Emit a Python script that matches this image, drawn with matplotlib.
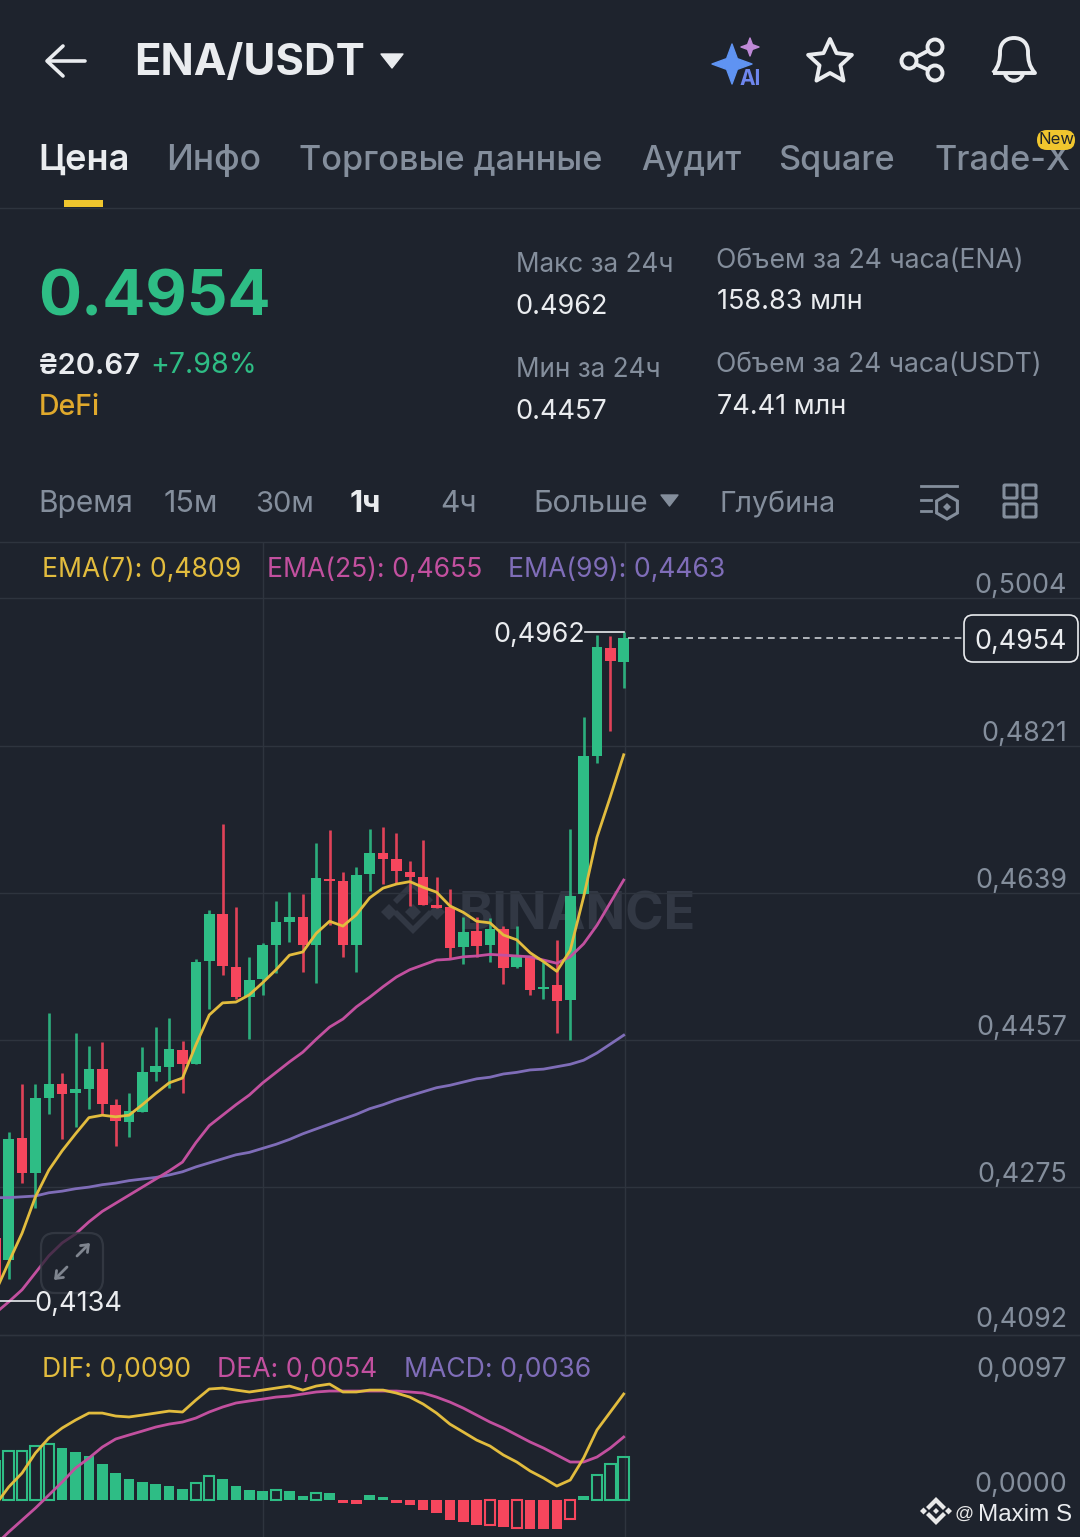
import numpy as np
import matplotlib
matplotlib.use('Agg')
import matplotlib.pyplot as plt
from matplotlib.patches import Circle, FancyBboxPatch, PathPatch, Polygon
from matplotlib.path import Path

plt.rcParams['font.family'] = ['Inter', 'Noto Sans', 'DejaVu Sans']

# hourly candles (first one is cut by the left edge)
opens = [.4212, .4185, .4336, .4292, .4385, .4402, .4391, .4397, .4421, .4377, .4355, .4368,
         .4417, .4424, .4445, .4427, .4555, .4613, .4547, .4510, .4532, .4575, .4603, .4609,
         .4575, .4656, .4654, .4575, .4662, .4688, .4681, .4665, .4659, .4624, .4622, .4572,
         .4592, .4574, .4594, .4547, .4560, .4520, .4525, .4507, .4638, .4808, .4942, .4925]
closes = [.4160, .4334, .4292, .4385, .4402, .4390, .4397, .4421, .4378, .4357, .4369, .4417,
          .4425, .4446, .4427, .4554, .4613, .4549, .4510, .4531, .4575, .4603, .4609, .4575,
          .4657, .4654, .4575, .4661, .4688, .4681, .4666, .4659, .4624, .4620, .4571, .4591,
          .4573, .4594, .4546, .4560, .4519, .4523, .4505, .4635, .4808, .4943, .4926, .4954]
highs = [.4225, .4343, .4402, .4402, .4490, .4416, .4466, .4450, .4454, .4384, .4392, .4448,
         .4473, .4484, .4456, .4557, .4618, .4724, .4622, .4560, .4577, .4629, .4640, .4638,
         .4701, .4717, .4665, .4671, .4718, .4721, .4713, .4679, .4704, .4659, .4644, .4609,
         .4609, .4608, .4598, .4598, .4560, .4554, .4581, .4718, .4857, .4958, .4957, .4962]
lows = [.4150, .4161, .4280, .4249, .4365, .4334, .4350, .4372, .4364, .4326, .4337, .4368,
        .4406, .4398, .4392, .4427, .4495, .4537, .4508, .4458, .4513, .4540, .4578, .4541,
        .4528, .4599, .4560, .4541, .4641, .4650, .4651, .4623, .4624, .4620, .4558, .4551,
        .4560, .4554, .4526, .4546, .4513, .4508, .4466, .4457, .4638, .4800, .4839, .4893]

ema7 = [.4145, .4182, .4218, .4263, .4296, .4320, .4341, .4361, .4364, .4362, .4364, .4377,
        .4391, .4404, .4410, .4451, .4488, .4503, .4504, .4513, .4528, .4544, .4562, .4566,
        .4589, .4604, .4598, .4612, .4633, .4645, .4650, .4653, .4646, .4640, .4623, .4615,
        .4604, .4602, .4587, .4581, .4565, .4554, .4542, .4568, .4634, .4708, .4758, .4810]
ema25 = [.4119, .4133, .4148, .4169, .4190, .4206, .4217, .4232, .4245, .4255, .4265, .4275,
         .4285, .4295, .4306, .4330, .4351, .4364, .4377, .4389, .4404, .4417, .4430, .4442,
         .4458, .4473, .4483, .4498, .4510, .4523, .4535, .4544, .4550, .4556, .4557, .4560,
         .4561, .4563, .4562, .4561, .4560, .4556, .4552, .4560, .4576, .4599, .4627, .4655]
ema99 = [.4262, .4262, .4263, .4264, .4268, .4270, .4273, .4275, .4278, .4280, .4283, .4285,
         .4287, .4290, .4294, .4300, .4305, .4310, .4315, .4318, .4323, .4328, .4334, .4341,
         .4347, .4353, .4359, .4365, .4372, .4377, .4383, .4388, .4393, .4398, .4401, .4405,
         .4409, .4411, .4415, .4417, .4420, .4421, .4424, .4427, .4432, .4441, .4452, .4463]

dif = [-.00042, .00110, .00228, .00397, .00523, .00608, .00675, .00734, .00734, .00709, .00701, .00717,
       .00734, .00751, .00743, .00844, .00937, .00945, .00928, .00912, .00928, .00945, .00962, .00928,
       .00962, .00979, .00912, .00912, .00928, .00928, .00903, .00869, .00810, .00734, .00641, .00574,
       .00506, .00456, .00380, .00321, .00245, .00186, .00118, .00169, .00354, .00591, .00743, .00895]
dea = [-.00380, -.00270, -.00169, -.00068, .00042, .00152, .00270, .00354, .00447, .00515, .00549, .00582,
       .00616, .00641, .00658, .00692, .00743, .00785, .00819, .00836, .00852, .00869, .00878, .00895,
       .00912, .00920, .00920, .00920, .00920, .00920, .00920, .00912, .00903, .00869, .00827, .00776,
       .00717, .00658, .00608, .00549, .00490, .00439, .00380, .00321, .00321, .00363, .00439, .00532]
macd = [.00338, .00414, .00414, .00456, .00473, .00439, .00405, .00371, .00304, .00228, .00177, .00152,
        .00135, .00118, .00093, .00143, .00203, .00177, .00118, .00084, .00076, .00084, .00076, .00034,
        .00059, .00059, -.00025, -.00034, .00042, .00025, -.00025, -.00042, -.00084, -.00110, -.00169, -.00186,
        -.00211, -.00211, -.00228, -.00236, -.00245, -.00245, -.00245, -.00160, .00034, .00211, .00304, .00363]
macd_hollow = [1, 2, 3, 4, 15, 16, 21, 24, 37, 39, 43, 45, 46, 47]  # positions in macd

price_ticks = [.5004, .4821, .4639, .4457, .4275, .4092]
price_tick_labels = ['0,5004', '0,4821', '0,4639', '0,4457', '0,4275', '0,4092']
macd_ticks = [.0097, 0]
macd_tick_labels = ['0,0097', '0,0000']

BG = '#1E232D'
GRID = '#2E343E'
GREEN = '#2EBD85'
RED = '#F6465D'
YELLOW = '#E2BC3E'
PINK = '#C2509F'
PURPLE = '#7F6DB8'
GRAY = '#848E9C'
WHITE = '#EAECEF'
W, H = 1080, 1537


def text(x, y, s, color=GRAY, size=19.5, weight='normal', ha='left', ax=None):
    (ax or ui).text(x, y, s, color=color, fontsize=size, fontweight=weight, ha=ha, va='baseline')


def sparkle(cx, cy, r, color):
    angles = np.arange(8) * np.pi / 4
    radii = np.where(np.arange(8) % 2 == 0, r, r * 0.38)
    ui.add_patch(Polygon(np.c_[cx + radii * np.sin(angles), cy - radii * np.cos(angles)],
                         fc=color, ec=color, lw=1, joinstyle='round'))


def diamond(ax, cx, cy, r, color, zorder=1):
    ax.add_patch(Polygon([(cx, cy - r), (cx + r, cy), (cx, cy + r), (cx - r, cy)], fc=color, ec='none', zorder=zorder))


def chevron(ax, cx, cy, r, t, up, color):
    s = -1 if up else 1
    ax.add_patch(Polygon([(cx - r, cy - s * r), (cx, cy), (cx + r, cy - s * r), (cx + r + t / 2, cy - s * (r - t / 2)),
                          (cx, cy + s * t), (cx - r - t / 2, cy - s * (r - t / 2))], fc=color, ec='none'))


fig = plt.figure(figsize=(W / 100, H / 100), dpi=100, facecolor=BG)

ui = fig.add_axes([0, 0, 1, 1])
ui.set_xlim(0, W)
ui.set_ylim(H, 0)
ui.axis('off')

# header
ui.plot([85, 48], [61, 61], color=WHITE, lw=2.6, solid_capstyle='round')
ui.plot([63, 47, 63], [46, 61, 76], color=WHITE, lw=2.6, solid_capstyle='round', solid_joinstyle='round')
text(134, 75, 'ENA/USDT', WHITE, 31.5, 'bold')
ui.add_patch(Polygon([(381, 54), (403, 54), (392, 68)], fc=WHITE, ec=WHITE, lw=1, joinstyle='round'))
sparkle(732, 64, 20, '#5F93F2')
sparkle(750, 47, 9, '#C08AD8')
text(740, 85, 'AI', '#6E86EE', 15, 'bold')
a = np.arange(10) * np.pi / 5
rr = np.where(np.arange(10) % 2 == 0, 23, 11)
ui.add_patch(Polygon(np.c_[830 + rr * np.sin(a), 62 - rr * np.cos(a)], fc='none', ec=WHITE, lw=2.8, joinstyle='round'))
ui.plot([935, 909, 935], [47, 61, 73], color=WHITE, lw=2.8)
for cx, cy in [(935, 47), (909, 61), (935, 73)]:
    ui.add_patch(Circle((cx, cy), 7.5, fc=BG, ec=WHITE, lw=2.8, zorder=3))
bell = Path([(993, 73), (999, 66), (1000, 60), (1000, 52), (1000, 43), (1006, 38), (1014, 38), (1022, 38), (1028, 43),
             (1028, 52), (1028, 60), (1029, 66), (1035, 73), (993, 73)],
            [Path.MOVETO] + [Path.CURVE4] * 12 + [Path.LINETO])
ui.add_patch(PathPatch(bell, fc='none', ec=WHITE, lw=2.8, joinstyle='round'))
ui.add_patch(PathPatch(Path([(1005, 74), (1008, 83), (1020, 83), (1023, 74)], [Path.MOVETO] + [Path.CURVE4] * 3),
                       fc='none', ec=WHITE, lw=2.8))

# tabs
tabs = [(38, 'Цена', WHITE, 26, 'semibold'), (166, 'Инфо', GRAY, 25.5, 'medium'), (299, 'Торговые данные', GRAY, 24.6, 'medium'),
        (641, 'Аудит', GRAY, 24, 'medium'), (778, 'Square', GRAY, 24.6, 'medium'), (934, 'Trade-X', GRAY, 24.6, 'medium')]
for tx, label, col, sz, wt in tabs:
    text(tx, 170, label, col, sz, wt)
ui.add_patch(Polygon([(64, 200), (103, 200), (103, 207), (64, 207)], fc='#F0C62E', ec='none'))
ui.add_patch(FancyBboxPatch((1037, 130), 38, 20, boxstyle='round,pad=0,rounding_size=10',
                            fc='#F0C62E', ec='none', zorder=3))
ui.text(1056, 140, 'New', color='#1E2329', fontsize=12, ha='center', va='center', zorder=4)
ui.axhline(207.5, color=GRID, lw=1)

# ticker block
text(38, 316, '0.4954', GREEN, 46, 'bold')
text(38, 374, '₴20.67', WHITE, 21, 'semibold')
text(150, 373, '+7.98%', GREEN, 20.5)
text(39, 415, 'DeFi', '#E0A92C', 20.5, 'medium')
text(516, 272, 'Макс за 24ч', GRAY, 18.8)
text(515, 314, '0.4962', WHITE, 19.5)
text(516, 377, 'Мин за 24ч', GRAY, 18.8)
text(515, 419, '0.4457', WHITE, 19.5)
text(716, 268, 'Объем за 24 часа(ENA)', GRAY, 19.2)
text(717, 309, '158.83 млн', WHITE, 19.5)
text(716, 372, 'Объем за 24 часа(USDT)', GRAY, 19.1)
text(717, 414, '74.41 млн', WHITE, 19.5)

# interval row
row = [(38, 'Время', 21.5), (164, '15м', 22), (255, '30м', 21), (440, '4ч', 21.5), (533, 'Больше', 21.9), (720, 'Глубина', 20.6)]
for tx, label, sz in row:
    text(tx, 512, label, GRAY, sz)
text(350, 512, '1ч', WHITE, 22, 'bold')
ui.add_patch(Polygon([(661, 495), (678, 495), (669.5, 506)], fc=GRAY, ec=GRAY, lw=1, joinstyle='round'))
ui.plot([921, 957], [486, 486], color=GRAY, lw=2)
ui.plot([921, 931], [500, 500], color=GRAY, lw=2)
ui.plot([921, 931], [511, 511], color=GRAY, lw=2)
b = np.arange(6) * np.pi / 3
ui.add_patch(Polygon(np.c_[947 + 12 * np.sin(b), 507 - 12 * np.cos(b)], fc=BG, ec=GRAY, lw=2.2, zorder=3))
diamond(ui, 947, 507, 4, GRAY, zorder=4)
for sx, sy in [(1004, 485), (1023, 485), (1004, 504), (1023, 504)]:
    ui.add_patch(FancyBboxPatch((sx, sy), 13, 13, boxstyle='round,pad=0,rounding_size=1', fc='none', ec=GRAY, lw=2.2))

# panel rules and legends
ui.axhline(542, color=GRID, lw=1)
ui.axhline(1335, color=GRID, lw=1)
ui.vlines([263, 624.5], 542, H, color=GRID, lw=1)
text(42, 577, 'EMA(7): 0,4809', YELLOW, 19.1)
text(267, 577, 'EMA(25): 0,4655', PINK, 19.1)
text(508, 577, 'EMA(99): 0,4463', PURPLE, 19.1)
text(42, 1377, 'DIF: 0,0090', YELLOW, 19.1)
text(217, 1377, 'DEA: 0,0054', PINK, 19.1)
text(404, 1377, 'MACD: 0,0036', PURPLE, 19.1)

# watermark sits under the candles
WM = '#323844'
for cx, cy, r in [(389, 912, 8), (413, 912, 8), (437, 912, 8)]:
    diamond(ui, cx, cy, r, WM)
chevron(ui, 413, 888, 16, 8, True, WM)
chevron(ui, 413, 926, 16, 8, False, WM)
ui.text(459, 930, 'BINANCE', color=WM, fontsize=37.5, fontweight='bold', va='baseline')

# price panel
idx = np.arange(-1, 47)
xlim = (-0.651, 80.13)
ax = fig.add_axes([0, (H - 1335) / H, 1, (1335 - 598) / H], facecolor='none')
ax.set_xlim(xlim)
ax.set_ylim(.4092, .5004)
ax.axis('off')
colors = [GREEN if c >= o else RED for o, c in zip(opens, closes)]
for val, lab in zip(price_ticks, price_tick_labels):
    ax.axhline(val, color=GRID, lw=1, clip_on=False)
    ax.annotate(lab, (1067 / W, val), xycoords=ax.get_yaxis_transform(), xytext=(0, 8 if val == .4092 else 5),
                textcoords='offset pixels', color=GRAY, fontsize=19.3, ha='right', va='baseline')
ax.vlines(idx, lows, highs, colors=colors, lw=1.9, alpha=.9, zorder=2)
body_low = np.minimum(opens, closes)
body_h = np.maximum(np.abs(np.array(closes) - np.array(opens)), .00025)
ax.bar(idx, body_h, bottom=body_low, width=.79, color=colors, zorder=3)
ax.plot(idx, ema99, color=PURPLE, lw=2, zorder=4)
ax.plot(idx, ema25, color=PINK, lw=2, zorder=4)
ax.plot(idx, ema7, color=YELLOW, lw=2, zorder=4)

# extremes and last price
ax.plot([43.1, 46], [highs[-1], highs[-1]], color=WHITE, lw=1.2, zorder=5)
ax.annotate('0,4962', (43.1, highs[-1]), xytext=(0, -3), textcoords='offset pixels', color=WHITE, fontsize=19.3,
            ha='right', va='center', zorder=5)
ax.plot([-0.651, 1.97], [.4134, .4134], color=WHITE, lw=1.2, zorder=5)
ax.plot([46.3, 71.4], [closes[-1], closes[-1]], color='#C9CDD2', lw=1.2, dashes=(4, 3), zorder=5)

# MACD panel
ax2 = fig.add_axes([0, 0, 1, (H - 1335) / H], facecolor='none')
ax2.set_xlim(xlim)
ax2.set_ylim(-.00312, .01393)
ax2.axis('off')
for val, lab in zip(macd_ticks, macd_tick_labels):
    ax2.annotate(lab, (1067 / W, val), xycoords=ax2.get_yaxis_transform(), xytext=(0, 8), textcoords='offset pixels',
                 color=GRAY, fontsize=19.3, ha='right', va='baseline')
bar_col = [GREEN if v >= 0 else RED for v in macd]
for k, (i, v) in enumerate(zip(idx, macd)):
    if k in macd_hollow:
        ax2.bar(i, v, width=.78, fc='none', ec=bar_col[k], lw=1.5, zorder=2)
    else:
        ax2.bar(i, v, width=.79, color=bar_col[k], zorder=2)
ax2.plot(idx, dea, color=PINK, lw=2, zorder=4)
ax2.plot(idx, dif, color=YELLOW, lw=2, zorder=4)

# things on top of the chart
top = fig.add_axes([0, 0, 1, 1], facecolor='none')
top.set_xlim(0, W)
top.set_ylim(H, 0)
top.axis('off')
top.add_patch(FancyBboxPatch((41, 1233), 62, 60, boxstyle='round,pad=0,rounding_size=14', fc=BG, ec='#3A404A', lw=1.6,
                             alpha=.72))
for x0, y0, x1, y1 in [(67, 1267, 54, 1280), (77, 1256, 90, 1243)]:
    top.annotate('', (x1, y1), (x0, y0), arrowprops=dict(arrowstyle='->,head_length=.45,head_width=.35', color='#7F858F',
                                                          lw=2, shrinkA=0, shrinkB=0))
top.annotate('0,4134', (1.97, .4134), xycoords=ax.transData, xytext=(-1, -3), textcoords='offset pixels', color=WHITE,
             fontsize=19.6, ha='left', va='center', zorder=6)
top.add_patch(FancyBboxPatch((964, 615), 114, 47, boxstyle='round,pad=0,rounding_size=9', fc=BG, ec=WHITE, lw=1.2))
top.text(1067, 649, '0,4954', color=WHITE, fontsize=19.3, ha='right', va='baseline')
LOGO = '#E8E8E8'
chevron(top, 936, 1503, 7, 6, True, LOGO)
chevron(top, 936, 1519, 7, 6, False, LOGO)
diamond(top, 923.5, 1511, 3.5, LOGO)
diamond(top, 948.5, 1511, 3.5, LOGO)
diamond(top, 936, 1511, 3, LOGO)
top.text(955, 1519, '@', color=LOGO, fontsize=13.5, family='Liberation Sans', ha='left', va='baseline')
top.text(1072, 1521, 'Maxim S', color=WHITE, fontsize=17.5, family='Liberation Sans', ha='right', va='baseline')

fig.savefig('out.png', dpi=100, facecolor=BG)
